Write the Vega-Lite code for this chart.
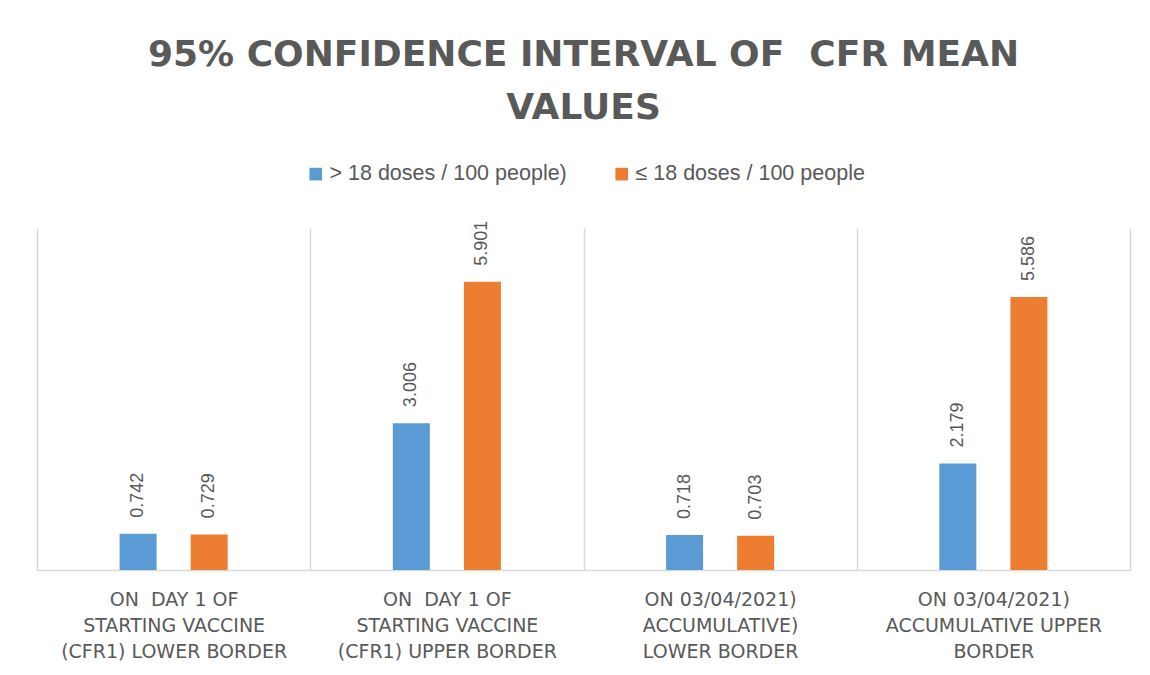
{
  "$schema": "https://vega.github.io/schema/vega-lite/v6.json",
  "width": 1093,
  "height": 342,
  "autosize": {"type": "none"},
  "padding": {"left": 37, "top": 228, "right": 20, "bottom": 105},
  "background": "white",
  "config": {"view": {"stroke": null}},
  "title": {
    "text": ["95% CONFIDENCE INTERVAL OF \u00a0CFR MEAN", "VALUES"],
    "font": "DejaVu Sans",
    "fontSize": 36,
    "fontWeight": "bold",
    "color": "#595959",
    "anchor": "middle",
    "frame": "group",
    "lineHeight": 53,
    "offset": 36
  },
  "data": {
    "values": [
      {"category": "ON  DAY 1 OF\nSTARTING VACCINE\n(CFR1) LOWER BORDER", "group": "> 18 doses / 100 people)", "value": 0.742},
      {"category": "ON  DAY 1 OF\nSTARTING VACCINE\n(CFR1) LOWER BORDER", "group": "≤ 18 doses / 100 people", "value": 0.729},
      {"category": "ON  DAY 1 OF\nSTARTING VACCINE\n(CFR1) UPPER BORDER", "group": "> 18 doses / 100 people)", "value": 3.006},
      {"category": "ON  DAY 1 OF\nSTARTING VACCINE\n(CFR1) UPPER BORDER", "group": "≤ 18 doses / 100 people", "value": 5.901},
      {"category": "ON 03/04/2021)\nACCUMULATIVE)\nLOWER BORDER", "group": "> 18 doses / 100 people)", "value": 0.718},
      {"category": "ON 03/04/2021)\nACCUMULATIVE)\nLOWER BORDER", "group": "≤ 18 doses / 100 people", "value": 0.703},
      {"category": "ON 03/04/2021)\nACCUMULATIVE UPPER\nBORDER", "group": "> 18 doses / 100 people)", "value": 2.179},
      {"category": "ON 03/04/2021)\nACCUMULATIVE UPPER\nBORDER", "group": "≤ 18 doses / 100 people", "value": 5.586}
    ]
  },
  "encoding": {
    "x": {
      "field": "category",
      "type": "nominal",
      "sort": null,
      "scale": {"paddingInner": 0, "paddingOuter": 0},
      "axis": {
        "title": null,
        "labelAngle": 0,
        "labelExpr": "split(replace(datum.label, '  ', ' \u00a0'), '\\n')",
        "labelFont": "DejaVu Sans",
        "labelFontSize": 19,
        "labelColor": "#595959",
        "labelLineHeight": 26,
        "labelLimit": 0,
        "labelPadding": 20,
        "labelBaseline": "top",
        "ticks": false,
        "grid": true,
        "gridColor": "#d9d9d9",
        "gridWidth": 1.5,
        "tickBand": "extent",
        "domainColor": "#d9d9d9",
        "domainWidth": 1.5
      }
    },
    "xOffset": {
      "field": "group",
      "type": "nominal",
      "sort": ["> 18 doses / 100 people)", "≤ 18 doses / 100 people"],
      "scale": {"paddingInner": 0.155, "paddingOuter": 1}
    },
    "y": {
      "field": "value",
      "type": "quantitative",
      "scale": {"domain": [0, 7]},
      "axis": null
    }
  },
  "layer": [
    {
      "mark": {"type": "bar", "width": 37},
      "encoding": {
        "color": {
          "field": "group",
          "type": "nominal",
          "sort": ["> 18 doses / 100 people)", "≤ 18 doses / 100 people"],
          "scale": {"range": ["#5B9BD5", "#ED7D31"]},
          "legend": {
            "title": null,
            "orient": "none",
            "legendX": 268,
            "legendY": -65,
            "direction": "horizontal",
            "symbolType": "square",
            "symbolSize": 160,
            "symbolStrokeWidth": 0,
            "labelFont": "Liberation Sans",
            "labelFontSize": 21.5,
            "labelColor": "#595959",
            "labelOffset": 3,
            "columnPadding": 44,
            "labelLimit": 0
          }
        }
      }
    },
    {
      "mark": {
        "type": "text",
        "angle": 270,
        "align": "left",
        "baseline": "middle",
        "dx": 16,
        "font": "Liberation Sans",
        "fontSize": 18,
        "color": "#595959"
      },
      "encoding": {
        "text": {"field": "value", "type": "quantitative", "format": ".3f"}
      }
    }
  ]
}
